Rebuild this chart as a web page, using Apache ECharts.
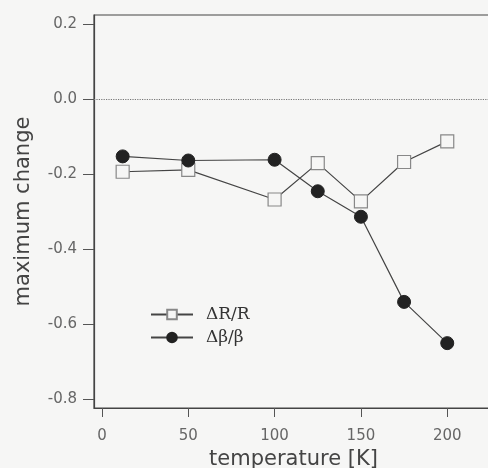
<!DOCTYPE html>
<html><head><meta charset="utf-8">
<script src="https://cdn.jsdelivr.net/npm/echarts@6/dist/echarts.min.js"></script>
<style>html,body{margin:0;padding:0;background:#f6f6f5;}#c{width:488px;height:468px;}</style>
</head><body><div id="c"></div>
<script>
const temperature = [12, 50, 100, 125, 150, 175, 200];
const dRR = [-0.194, -0.189, -0.268, -0.171, -0.273, -0.168, -0.113];
const dBB = [-0.153, -0.164, -0.162, -0.246, -0.314, -0.541, -0.651];
const xTicks = [0, 50, 100, 150, 200];
const yTicks = [0.2, 0.0, -0.2, -0.4, -0.6, -0.8];

const chart = echarts.init(document.getElementById('c'));
const axisCol = '#555';
chart.setOption({
  backgroundColor: '#f6f6f5',
  animation: false,
  grid: {left: 94, top: 15, right: -5, bottom: 60, containLabel: false, outerBoundsMode: 'none',
    show: true, borderColor: '#444', borderWidth: 1.2, backgroundColor: 'transparent'},
  legend: {
    orient: 'vertical', left: 150, top: 306, padding: 0, itemWidth: 42, itemHeight: 12, itemGap: 6,
    textStyle: {fontFamily: 'DejaVu Serif', fontSize: 17, color: '#333', lineHeight: 16, padding: [0, 0, 0, 8]},
    data: ['ΔR/R', 'Δβ/β']
  },
  xAxis: {
    type: 'value', min: -4.6, max: 226.5,
    name: 'temperature [K]', nameLocation: 'middle', nameGap: 35,
    nameTextStyle: {fontFamily: 'DejaVu Sans', fontSize: 21, color: '#444'},
    axisLine: {show: true, onZero: false, lineStyle: {color: '#444', width: 1.2}},
    axisTick: {show: true, length: 9, customValues: xTicks, lineStyle: {color: axisCol}},
    axisLabel: {customValues: xTicks, margin: 21, fontFamily: 'DejaVu Sans', fontSize: 15, color: '#666'},
    splitLine: {show: false}
  },
  yAxis: {
    type: 'value', min: -0.824, max: 0.224,
    name: 'maximum change', nameLocation: 'middle', nameGap: 60, nameRotate: 90,
    nameTextStyle: {fontFamily: 'DejaVu Sans', fontSize: 21, color: '#444'},
    axisLine: {show: true, onZero: false, lineStyle: {color: '#444', width: 1.2}},
    axisTick: {show: true, length: 11, customValues: yTicks, lineStyle: {color: axisCol}},
    axisLabel: {customValues: yTicks, margin: 17, fontFamily: 'DejaVu Sans', fontSize: 15, color: '#666',
      formatter: v => v.toFixed(1)},
    splitLine: {show: false}
  },
  series: [
    {
      name: 'ΔR/R', type: 'line', data: temperature.map((t, i) => [t, dRR[i]]),
      symbol: 'rect', symbolSize: 13,
      lineStyle: {color: '#444', width: 1.2},
      itemStyle: {color: '#f6f6f5', borderColor: '#888', borderWidth: 1.2},
      markLine: {
        silent: true, symbol: 'none', label: {show: false},
        lineStyle: {color: '#777', type: 'dotted', width: 1.2},
        data: [{yAxis: 0}]
      }
    },
    {
      name: 'Δβ/β', type: 'line', data: temperature.map((t, i) => [t, dBB[i]]),
      symbol: 'circle', symbolSize: 13,
      lineStyle: {color: '#444', width: 1.2},
      itemStyle: {color: '#222', borderColor: '#222', borderWidth: 1}
    }
  ]
});
</script></body></html>
